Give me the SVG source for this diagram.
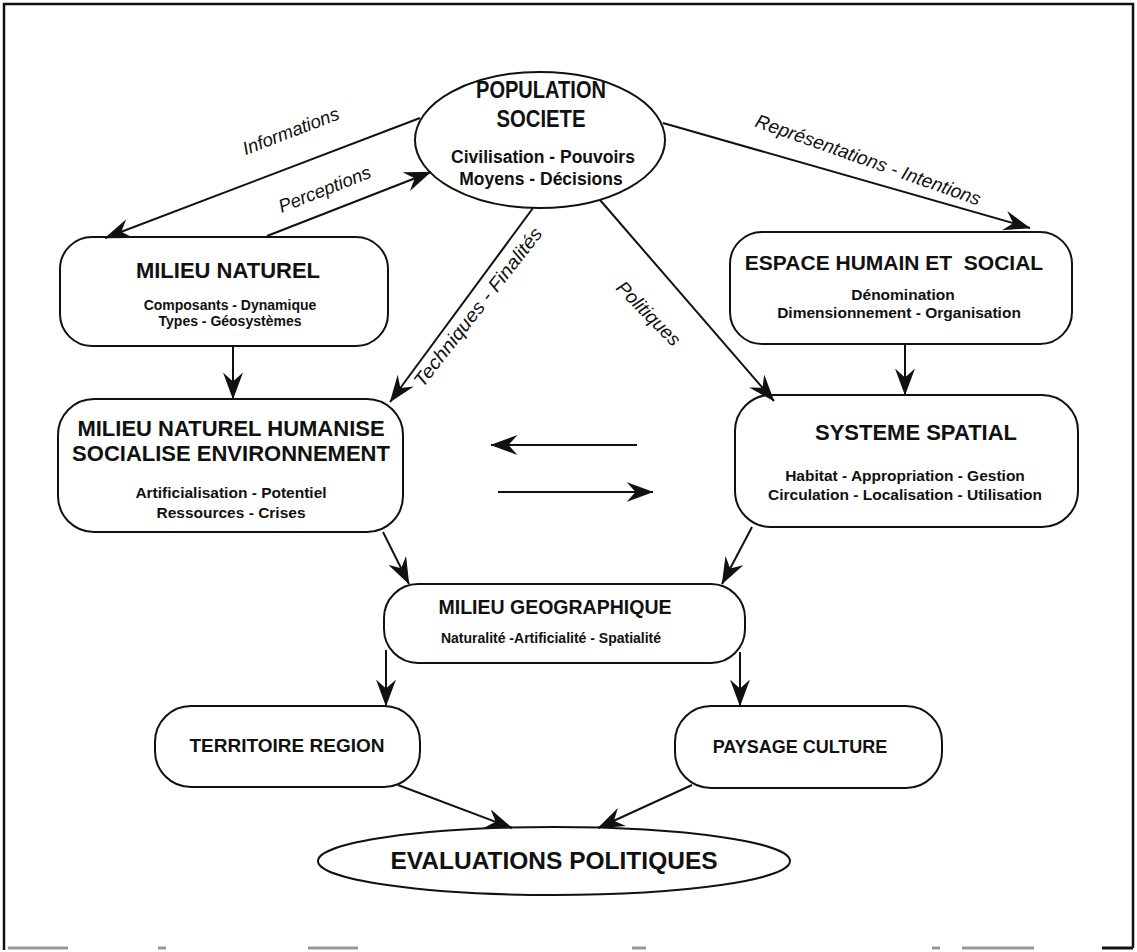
<svg xmlns="http://www.w3.org/2000/svg" width="1137" height="952" viewBox="0 0 1137 952">
<defs>
<style>
.box{fill:#fff;stroke:#111;stroke-width:2}
.ln{stroke:#111;stroke-width:2;fill:none}
.t{font-family:"Liberation Sans",Arial,sans-serif;font-weight:bold;fill:#111;text-anchor:middle}
.h{font-size:22px}
.s{font-size:14px}
.m{font-size:19px}
.lab{font-family:"Liberation Sans",Arial,sans-serif;font-size:18.5px;font-style:italic;fill:#111;text-anchor:middle}
</style>
<marker id="ah" markerUnits="userSpaceOnUse" viewBox="0 0 27 20" refX="26.5" refY="10" markerWidth="27" markerHeight="20" orient="auto">
<path d="M0,0 L27,10 L0,20 L9,10 Z" fill="#111"/>
</marker>
</defs>
<rect width="1137" height="952" fill="#fff"/>
<g id="frame" fill="none" stroke="#111">
<path d="M4,950 L4,4 L1133,4 L1133,948" stroke-width="2.5"/>
<g stroke="#999" stroke-width="3">
<path d="M8,948 H68 M158,948 H166 M308,948 H358 M632,948 H646 M932,948 H940 M962,948 H1034"/>
</g>
<path d="M1102,948 H1133" stroke-width="3"/>
</g>
<g id="population">
<ellipse class="box" cx="540" cy="140" rx="125" ry="68"/>
<text class="t" style="font-size:23px" x="541" y="98" textLength="130" lengthAdjust="spacingAndGlyphs">POPULATION</text>
<text class="t" style="font-size:23px" x="541" y="127" textLength="89" lengthAdjust="spacingAndGlyphs">SOCIETE</text>
<text class="t" style="font-size:17.5px" x="543" y="163">Civilisation - Pouvoirs</text>
<text class="t" style="font-size:17.5px" x="541" y="185">Moyens - Décisions</text>
</g>
<g id="milieu-naturel">
<rect class="box" x="60" y="237" width="328" height="109" rx="32"/>
<text class="t h" x="228" y="278">MILIEU NATUREL</text>
<text class="t s" x="230" y="310">Composants - Dynamique</text>
<text class="t s" x="230" y="326">Types - Géosystèmes</text>
</g>
<g id="espace-humain">
<rect class="box" x="730" y="232" width="342" height="112" rx="32"/>
<text class="t" style="font-size:21px" x="894" y="270" xml:space="preserve">ESPACE HUMAIN ET  SOCIAL</text>
<text class="t" style="font-size:15.5px" x="903" y="300">Dénomination</text>
<text class="t" style="font-size:15.5px" x="899" y="318">Dimensionnement - Organisation</text>
</g>
<g id="milieu-humanise">
<rect class="box" x="58" y="399" width="345" height="133" rx="36"/>
<text class="t h" x="231" y="436">MILIEU NATUREL HUMANISE</text>
<text class="t h" x="231" y="461">SOCIALISE ENVIRONNEMENT</text>
<text class="t" style="font-size:15.5px" x="231" y="498">Artificialisation - Potentiel</text>
<text class="t" style="font-size:15.5px" x="231" y="518">Ressources - Crises</text>
</g>
<g id="systeme-spatial">
<rect class="box" x="735" y="395" width="343" height="132" rx="36"/>
<text class="t h" x="916" y="440">SYSTEME SPATIAL</text>
<text class="t" style="font-size:15.5px" x="905" y="481">Habitat - Appropriation - Gestion</text>
<text class="t" style="font-size:15.5px" x="905" y="500">Circulation - Localisation - Utilisation</text>
</g>
<g id="milieu-geographique">
<rect class="box" x="384" y="584" width="361" height="79" rx="34"/>
<text class="t" style="font-size:19.5px" x="555" y="614">MILIEU GEOGRAPHIQUE</text>
<text class="t s" x="551" y="643">Naturalité -Artificialité - Spatialité</text>
</g>
<g id="territoire-region">
<rect class="box" x="155" y="706" width="265" height="81" rx="36"/>
<text class="t m" x="287" y="752">TERRITOIRE REGION</text>
</g>
<g id="paysage-culture">
<rect class="box" x="675" y="706" width="267" height="82" rx="36"/>
<text class="t" style="font-size:18px" x="800" y="753">PAYSAGE CULTURE</text>
</g>
<g id="evaluations">
<ellipse class="box" cx="554" cy="861" rx="236" ry="34"/>
<text class="t" style="font-size:24.5px" x="554" y="869">EVALUATIONS POLITIQUES</text>
</g>
<g id="connectors" class="ln">
<line x1="420" y1="118" x2="105" y2="238" marker-end="url(#ah)"/>
<line x1="267" y1="236" x2="431" y2="172" marker-end="url(#ah)"/>
<line x1="663" y1="123" x2="1030" y2="228" marker-end="url(#ah)"/>
<line x1="533" y1="208" x2="390" y2="402" marker-end="url(#ah)"/>
<line x1="600" y1="200" x2="774" y2="401" marker-end="url(#ah)"/>
<line x1="233" y1="346" x2="233" y2="399" marker-end="url(#ah)"/>
<line x1="905" y1="344" x2="905" y2="395" marker-end="url(#ah)"/>
<line x1="637" y1="445" x2="491" y2="445" marker-end="url(#ah)"/>
<line x1="498" y1="492" x2="653" y2="492" marker-end="url(#ah)"/>
<line x1="383" y1="532" x2="409" y2="584" marker-end="url(#ah)"/>
<line x1="752" y1="527" x2="722" y2="584" marker-end="url(#ah)"/>
<line x1="386" y1="650" x2="386" y2="706" marker-end="url(#ah)"/>
<line x1="740" y1="652" x2="740" y2="706" marker-end="url(#ah)"/>
<line x1="398" y1="785" x2="512" y2="828" marker-end="url(#ah)"/>
<line x1="692" y1="785" x2="598" y2="828" marker-end="url(#ah)"/>
</g>
<g id="labels">
<text class="lab" transform="translate(293,137) rotate(-21)">Informations</text>
<text class="lab" transform="translate(327,195) rotate(-21.5)">Perceptions</text>
<text class="lab" style="font-size:19px" transform="translate(866,166) rotate(19.5)">Représentations - Intentions</text>
<text class="lab" style="font-size:19px" transform="translate(483,311) rotate(-52)" textLength="196" lengthAdjust="spacingAndGlyphs">Techniques - Finalités</text>
<text class="lab" style="font-size:19px" transform="translate(644,318) rotate(45.3)">Politiques</text>
</g>
</svg>
